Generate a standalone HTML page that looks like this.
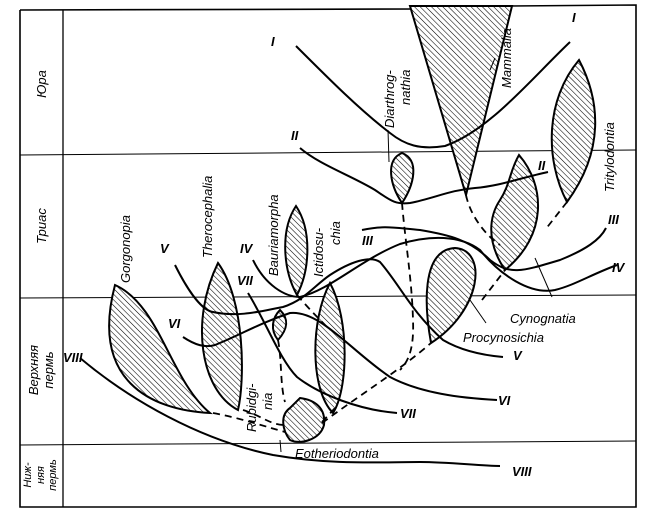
<!DOCTYPE html>
<html><head><meta charset="utf-8"><style>
html,body{margin:0;padding:0;background:#fff;}
svg{display:block;}
text{font-family:"Liberation Sans",sans-serif;font-style:italic;fill:#000;}
</style></head><body>
<svg width="656" height="521" viewBox="0 0 656 521" xmlns="http://www.w3.org/2000/svg">
<defs>
<pattern id="h" patternUnits="userSpaceOnUse" width="4" height="4" patternTransform="rotate(-45)">
<rect width="4" height="4" fill="#fff"/><line x1="0" y1="0" x2="0" y2="4" stroke="#000" stroke-width="1.1"/>
</pattern>
</defs>
<g fill="none" stroke="#000">
<!-- frame -->
<path d="M20,10 L420,9 M510,6 L636,5 L636,507 L20,507 L20,10" stroke-width="1.6"/>
<line x1="63" y1="10" x2="63" y2="507" stroke-width="1.3"/>
<line x1="20" y1="155" x2="636" y2="150" stroke-width="1"/>
<line x1="20" y1="298" x2="636" y2="295" stroke-width="1"/>
<line x1="20" y1="445" x2="636" y2="441" stroke-width="1"/>
</g>
<!-- hatched shapes -->
<g fill="url(#h)" stroke="#000" stroke-width="2">
<path d="M410,6 L512,6 L466,195 Z"/>
<path d="M579,60 C600,100 605,150 567,202 C545,160 545,100 579,60 Z"/>
<path d="M402,153 C420,160 414,185 402,203 C390,185 385,160 402,153 Z"/>
<path d="M519,155 C545,185 548,235 505,270 C485,240 490,215 500,200 C510,185 510,170 519,155 Z"/>
<path d="M455,248 C488,250 482,310 431,343 C425,310 420,250 455,248 Z"/>
<path d="M296,206 C312,230 310,270 297,295 C283,270 280,230 296,206 Z"/>
<path d="M330,283 C350,320 348,390 333,413 C310,390 310,320 330,283 Z"/>
<path d="M218,263 C245,300 245,380 238,410 C200,390 190,320 218,263 Z"/>
<path d="M115,285 C160,305 170,380 210,413 C150,410 90,380 115,285 Z"/>
<path d="M280,310 C290,320 287,330 278,340 C270,330 272,318 280,310 Z"/>
<path d="M300,398 C315,400 326,408 324,425 C320,440 300,445 290,440 C282,430 280,415 290,408 Z"/>
</g>
<!-- dashed -->
<g fill="none" stroke="#000" stroke-width="1.8" stroke-dasharray="7,5">
<path d="M213,413 C240,418 260,425 285,432"/>
<path d="M243,410 C260,415 270,425 285,425"/>
<path d="M278,340 C282,360 280,385 285,402"/>
<path d="M322,422 L335,408"/>
<path d="M322,423 C360,395 400,370 431,343"/>
<path d="M402,203 C405,240 412,280 413,320 C414,345 410,360 400,370"/>
<path d="M466,195 C470,215 485,235 500,245"/>
<path d="M567,202 L545,230"/>
<path d="M482,300 L505,270"/>
<path d="M297,295 C310,310 320,320 330,330"/>
</g>
<!-- curves -->
<g fill="none" stroke="#000" stroke-width="2">
<path d="M296,46 C330,80 360,110 390,133 C405,145 420,150 445,146 C490,130 530,80 570,42"/>
<path d="M300,148 C320,165 350,175 375,190 C390,200 395,205 410,203 C435,198 450,190 475,188 C500,186 520,178 548,172"/>
<path d="M362,230 C385,225 395,228 420,230 C450,235 470,240 490,260 C510,275 520,272 560,260 C585,250 600,240 606,228"/>
<path d="M253,260 C265,285 285,297 300,297 C330,290 360,260 400,244 C430,235 460,235 480,250 C500,275 530,295 555,290 C575,285 590,275 617,265"/>
<path d="M175,265 C185,285 200,310 213,312 C240,318 265,310 283,307 C305,300 315,285 330,275 C350,262 370,255 380,262 C400,285 410,310 443,340 C460,350 480,355 503,357"/>
<path d="M183,337 C195,345 205,348 215,345 C240,335 260,323 290,313 C320,310 350,350 390,377 C420,393 460,398 497,400"/>
<path d="M248,293 C265,320 280,360 297,377 C320,395 360,410 397,413"/>
<path d="M80,358 C130,400 200,440 273,455 C330,465 380,462 420,462 C450,462 480,466 500,466"/>
</g>
<!-- leader lines -->
<g fill="none" stroke="#000" stroke-width="1">
<line x1="388" y1="130" x2="389" y2="162"/>
<line x1="495" y1="58" x2="490" y2="70"/>
<line x1="280" y1="440" x2="281" y2="452"/>
<line x1="535" y1="258" x2="552" y2="297"/>
<line x1="470" y1="300" x2="486" y2="323"/>
</g>
<!-- roman labels -->
<g font-family="Liberation Serif" font-style="italic" font-size="13" font-weight="bold">
<text x="271" y="46">I</text><text x="572" y="22">I</text>
<text x="291" y="140">II</text><text x="538" y="170">II</text>
<text x="362" y="245">III</text><text x="608" y="224">III</text>
<text x="240" y="253">IV</text><text x="612" y="272">IV</text>
<text x="160" y="253">V</text><text x="513" y="360">V</text>
<text x="168" y="328">VI</text><text x="498" y="405">VI</text>
<text x="237" y="285">VII</text><text x="400" y="418">VII</text>
<text x="63" y="362">VIII</text><text x="512" y="476">VIII</text>
</g>
<!-- era labels -->
<g font-size="13">
<text transform="translate(46,84) rotate(-90)" text-anchor="middle">Юра</text>
<text transform="translate(46,226) rotate(-90)" text-anchor="middle">Триас</text>
<text transform="translate(38,370) rotate(-90)" text-anchor="middle">Верхняя</text>
<text transform="translate(53,370) rotate(-90)" text-anchor="middle">пермь</text>
<text transform="translate(31,475) rotate(-90)" text-anchor="middle" font-size="11">Ниж-</text>
<text transform="translate(44,475) rotate(-90)" text-anchor="middle" font-size="11">няя</text>
<text transform="translate(56,475) rotate(-90)" text-anchor="middle" font-size="11">пермь</text>
</g>
<!-- taxon labels -->
<g font-size="13">
<text transform="translate(130,283) rotate(-90)">Gorgonopia</text>
<text transform="translate(212,258) rotate(-90)">Therocephalia</text>
<text transform="translate(278,276) rotate(-90)">Bauriamorpha</text>
<text transform="translate(323,277) rotate(-90)">Ictidosu-</text>
<text transform="translate(340,245) rotate(-90)">chia</text>
<text transform="translate(394,128) rotate(-90)">Diarthrog-</text>
<text transform="translate(410,105) rotate(-90)">nathia</text>
<text transform="translate(511,88) rotate(-90)">Mammalia</text>
<text transform="translate(614,192) rotate(-90)">Tritylodontia</text>
<text transform="translate(256,432) rotate(-90)">Rubidgi-</text>
<text transform="translate(272,410) rotate(-90)">nia</text>
<text x="510" y="323">Cynognatia</text>
<text x="463" y="342">Procynosichia</text>
<text x="295" y="458">Eotheriodontia</text>
</g>
</svg>
</body></html>
